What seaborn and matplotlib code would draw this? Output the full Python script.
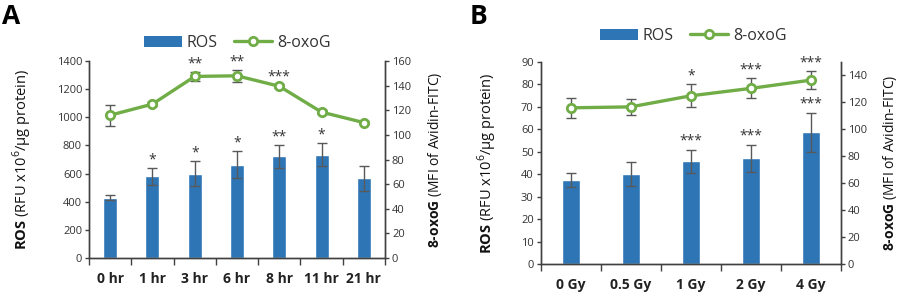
import numpy as np
import matplotlib
matplotlib.use('Agg')
import matplotlib.pyplot as plt
import seaborn as sns
from matplotlib.lines import Line2D
from matplotlib.patches import Patch

sns.set_style('white')
plt.rcParams['font.family'] = ['Open Sans', 'DejaVu Sans']
plt.rcParams['mathtext.fontset'] = 'custom'
plt.rcParams['mathtext.rm'] = 'Open Sans'
plt.rcParams['mathtext.bf'] = 'Open Sans:bold'
plt.rcParams['text.color'] = '#262626'

# Panel A data (time course)
hours = ['0 hr', '1 hr', '3 hr', '6 hr', '8 hr', '11 hr', '21 hr']
ros_a = [430, 580, 600, 662, 724, 733, 568]
ros_a_err = [20, 58, 86, 95, 81, 81, 89]
oxo_a = [116, 125, 147.5, 148, 139.5, 118.5, 110]
oxo_a_err = [8.5, 1.5, 3.5, 5, 1.5, 1.5, 1]
ros_a_sig = ['', '*', '*', '*', '**', '*', '']
oxo_a_sig = ['', '', '**', '**', '***', '', '']

# Panel B data (dose)
doses = ['0 Gy', '0.5 Gy', '1 Gy', '2 Gy', '4 Gy']
ros_b = [37.5, 40, 45.8, 47.2, 58.7]
ros_b_err = [3, 5.3, 5, 6, 8.7]
oxo_b = [116, 116.7, 124.9, 130.4, 136.5]
oxo_b_err = [7.4, 6, 8.4, 7.4, 6.7]
ros_b_sig = ['', '', '***', '***', '***']
oxo_b_sig = ['', '', '*', '***', '***']

BLUE = '#2E75B6'
GREEN = '#70AD47'
ERR = '#595959'
SPINE = '#404040'
TXT = '#333333'

fig = plt.figure(figsize=(9, 2.98), dpi=100)


def panel(rect, cats, ros, ros_err, oxo, oxo_err, ros_sig, oxo_sig,
          ylim_l, yticks_l, ylim_r, yticks_r, bar_w, lab_l, lab_r, star_pad_l, star_pad_r):
    ax = fig.add_axes(rect)
    x = np.arange(len(cats))
    sns.barplot(x=x, y=ros, ax=ax, color=BLUE, width=bar_w, saturation=1, native_scale=True)
    ax.errorbar(x, ros, yerr=ros_err, fmt='none', ecolor=ERR, elinewidth=1, capsize=3.5, capthick=1)
    for xi, v, e, s in zip(x, ros, ros_err, ros_sig):
        if s:
            ax.text(xi, v + e + star_pad_l, s, ha='center', va='bottom', fontsize=10, color=TXT)
    ax.set_xlim(-0.5, len(cats) - 0.5)
    ax.set_ylim(*ylim_l)
    ax.set_yticks(yticks_l)
    ax.set_xticks(x)
    ax.set_xticklabels(cats, fontweight='bold', fontsize=10, color='#222222')
    ax.set_xticks(np.arange(len(cats) + 1) - 0.5, minor=True)
    ax.tick_params(axis='x', which='major', length=0, pad=10)
    ax.tick_params(axis='x', which='minor', length=5, width=1, color=SPINE, direction='out', bottom=True)
    ax.tick_params(axis='y', labelsize=8, labelcolor=TXT, length=3, width=1, color=SPINE, left=True, pad=2)

    ax2 = ax.twinx()
    sns.lineplot(x=x, y=oxo, ax=ax2, color=GREEN, linewidth=2.4, marker='o', markersize=6,
                 markerfacecolor='white', markeredgecolor=GREEN, markeredgewidth=2, zorder=3)
    ax2.errorbar(x, oxo, yerr=oxo_err, fmt='none', ecolor=ERR, elinewidth=1, capsize=3.5,
                 capthick=1, zorder=2)
    for xi, v, e, s in zip(x, oxo, oxo_err, oxo_sig):
        if s:
            ax2.text(xi, v + e + star_pad_r, s, ha='center', va='bottom', fontsize=10, color=TXT)
    ax2.set_ylim(*ylim_r)
    ax2.set_yticks(yticks_r)
    ax2.tick_params(axis='y', labelsize=8, labelcolor=TXT, length=3, width=1, color=SPINE, right=True, pad=2)

    for a in (ax, ax2):
        a.spines['top'].set_visible(False)
        for sp in ('left', 'right', 'bottom'):
            a.spines[sp].set_color(SPINE)
            a.spines[sp].set_linewidth(1)
    ax.set_ylabel(lab_l, fontsize=10.5, color='#111111')
    ax2.set_ylabel(lab_r, fontsize=10, color='#111111')
    return ax, ax2


lab_l = r'$\mathbf{ROS}$ (RFU x10$^6$/µg protein)'
lab_r = r'$\mathbf{8‐oxoG}$ (MFI of Avidin-FITC)'

axA, axA2 = panel([0.0989, 0.1342, 0.3289, 0.661], hours, ros_a, ros_a_err, oxo_a, oxo_a_err,
                  ros_a_sig, oxo_a_sig, (0, 1400), range(0, 1401, 200), (0, 160), range(0, 161, 20),
                  0.33, lab_l, lab_r, 5, 0.3)
axB, axB2 = panel([0.6008, 0.1131, 0.3333, 0.679], doses, ros_b, ros_b_err, oxo_b, oxo_b_err,
                  ros_b_sig, oxo_b_sig, (0, 90), range(0, 91, 10), (0, 150), range(0, 141, 20),
                  0.30, lab_l, lab_r, 0.5, 0.5)

axA.yaxis.set_label_coords(-0.185, 0.5)
axA2.yaxis.set_label_coords(1.14, 0.5)
axB.yaxis.set_label_coords(-0.14, 0.5)
axB2.yaxis.set_label_coords(1.135, 0.5)

handles = [Patch(facecolor=BLUE, edgecolor='none'),
           Line2D([], [], color=GREEN, linewidth=2.4, marker='o', markersize=6,
                  markerfacecolor='white', markeredgecolor=GREEN, markeredgewidth=2)]
for cx, cy in [(237 / 900, 1 - 43 / 298), (693 / 900, 1 - 36 / 298)]:
    fig.legend(handles, ['ROS', '8-oxoG'], loc='center', bbox_to_anchor=(cx, cy), ncol=2,
               frameon=False, fontsize=11.5, handlelength=2.4, columnspacing=1.0, handletextpad=0.3,
               labelcolor=TXT)

fig.text(0.002, 0.945, 'A', fontsize=19, fontweight='bold', va='center', ha='left', color='black')
fig.text(0.522, 0.945, 'B', fontsize=19, fontweight='bold', va='center', ha='left', color='black')

fig.savefig('out.png', dpi=100, facecolor='white')
